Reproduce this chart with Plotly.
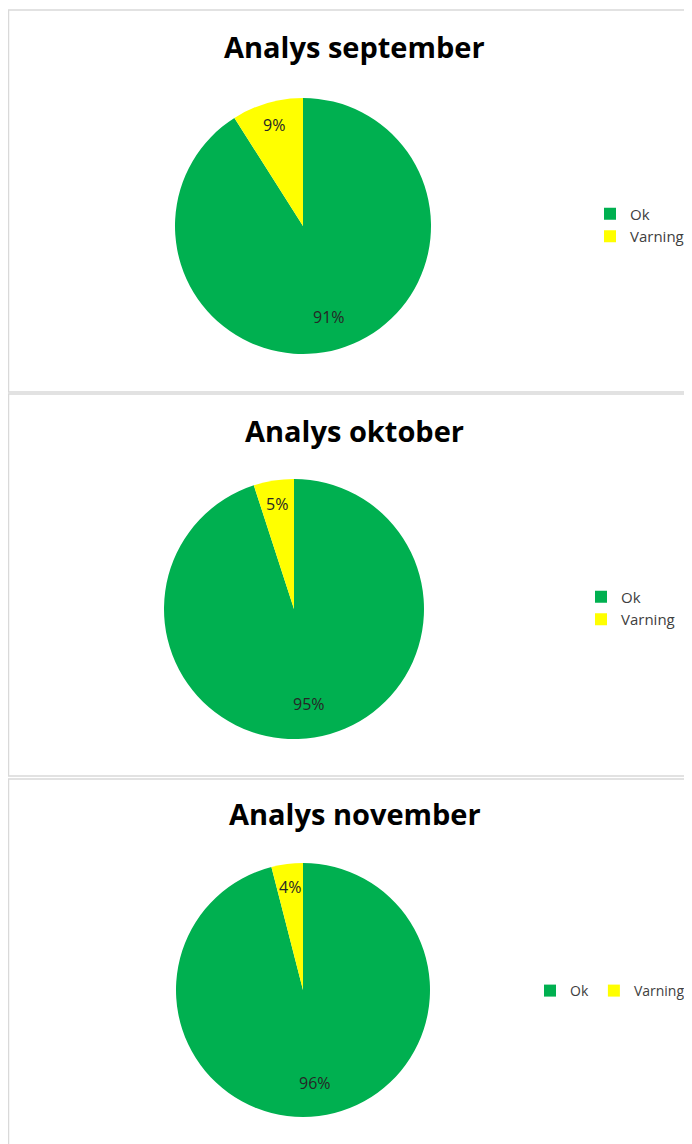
import math
import plotly.graph_objects as go

categories = ["Ok", "Varning"]
months = ["september", "oktober", "november"]
values_sep = [91, 9]
values_okt = [95, 5]
values_nov = [96, 4]
colors = ["#00B050", "#FFFF00"]

W, H = 692, 1144
OFF = 8  # page body margin compensation (px)

def px_x(x):
    return (x - OFF) / W

def px_y(y):
    return 1 - (y - OFF) / H

# pie centre and radius per panel (screen px)
centres = [(303, 226), (294, 609), (303, 990)]
radii = [128, 130, 127]

fig = go.Figure()
series = [values_sep, values_okt, values_nov]
legends = ["legend", "legend2", "legend3"]
for i, (vals, (cx, cy), r) in enumerate(zip(series, centres, radii)):
    # distinct (invisible-suffix) labels so every panel keeps its own legend
    labels = [c + "\u200b" * i for c in categories]
    fig.add_trace(go.Pie(
        labels=labels,
        values=vals,
        sort=False,
        direction="clockwise",
        rotation=0,
        marker=dict(colors=colors, line=dict(width=0)),
        textinfo="none",
        domain=dict(x=[px_x(cx - r), px_x(cx + r)],
                    y=[px_y(cy + r), px_y(cy - r)]),
        legend=legends[i],
        hoverinfo="label+percent",
    ))
    # percentage labels placed at each slice's mid angle
    total = sum(vals)
    cum = 0
    for v in vals:
        mid = (cum + v / 2) / total * 2 * math.pi
        cum += v
        frac = 0.74 if v / total > 0.5 else 0.82
        lx = cx + r * frac * math.sin(mid)
        ly = cy - r * frac * math.cos(mid)
        fig.add_annotation(text="%d%%" % round(100 * v / total), xref="paper", yref="paper",
                           x=px_x(lx), y=px_y(ly), showarrow=False,
                           xanchor="center", yanchor="middle",
                           font=dict(family="Open Sans", size=16, color="#262626"))

# panel frames (screen px)
panels = [(10, 392), (394, 776), (779, 1170)]
for y0, y1 in panels:
    fig.add_shape(type="rect", xref="paper", yref="paper",
                  x0=px_x(8.5), x1=px_x(730), y0=px_y(y1), y1=px_y(y0),
                  line=dict(color="#D9D9D9", width=1.5), fillcolor="rgba(0,0,0,0)")

title_y = [46, 430, 813]
for m, ty in zip(months, title_y):
    fig.add_annotation(text="<b>Analys %s</b>" % m, xref="paper", yref="paper",
                       x=px_x(355), y=px_y(ty), showarrow=False,
                       xanchor="center", yanchor="middle",
                       font=dict(family="Open Sans", size=29, color="#000000"))

fig.update_layout(
    width=W, height=H,
    margin=dict(l=0, r=0, t=0, b=0),
    paper_bgcolor="white", plot_bgcolor="white",
    legend=dict(x=px_x(590), y=px_y(225), xanchor="left", yanchor="middle",
                orientation="v", bgcolor="rgba(0,0,0,0)",
                font=dict(family="Open Sans", size=15, color="#404040")),
    legend2=dict(x=px_x(581), y=px_y(608), xanchor="left", yanchor="middle",
                 orientation="v", bgcolor="rgba(0,0,0,0)",
                 font=dict(family="Open Sans", size=15, color="#404040")),
    legend3=dict(x=px_x(530), y=px_y(991), xanchor="left", yanchor="middle",
                 orientation="h", bgcolor="rgba(0,0,0,0)",
                 font=dict(family="Open Sans", size=14, color="#404040")),
)

fig.write_html("out.html")
